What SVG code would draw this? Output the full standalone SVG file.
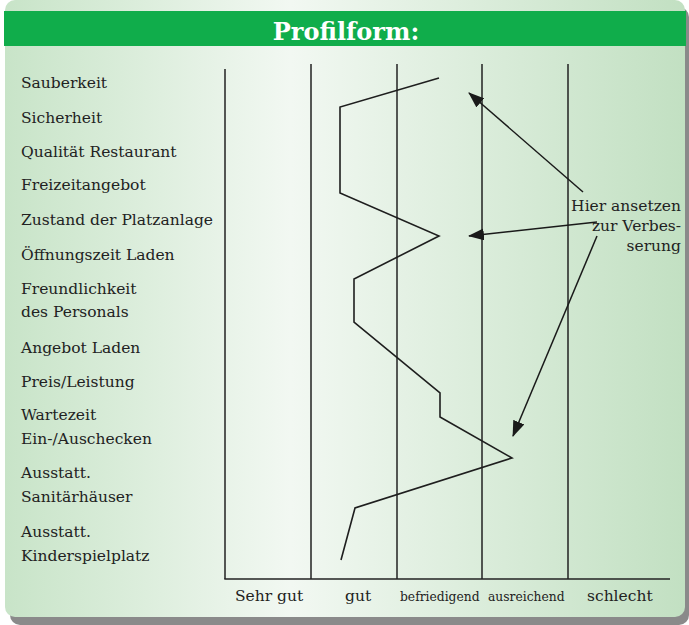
<svg xmlns="http://www.w3.org/2000/svg" width="689" height="625" viewBox="0 0 689 625">
<defs>
<linearGradient id="bg" x1="0" y1="0" x2="1" y2="0">
<stop offset="0" stop-color="#c8e4c8"/>
<stop offset="0.42" stop-color="#f2f8f2"/>
<stop offset="1" stop-color="#c2e0c2"/>
</linearGradient>
<marker id="ah" markerUnits="userSpaceOnUse" markerWidth="16" markerHeight="12" refX="15" refY="6" orient="auto">
<path d="M0,0 L16,6 L0,12 z" fill="#1a1a1a"/>
</marker>
<style>
.lbl{font-family:"DejaVu Serif","Liberation Serif",serif;font-size:15.5px;fill:#222}
.ax{font-family:"DejaVu Serif","Liberation Serif",serif;font-size:15.5px;fill:#222}
.axs{font-family:"DejaVu Serif","Liberation Serif",serif;font-size:12.3px;fill:#222}
.grid{stroke:#222;stroke-width:1.5;fill:none}
.prof{stroke:#1e1e1e;stroke-width:1.6;fill:none;stroke-linejoin:miter}
.arr{stroke:#1a1a1a;stroke-width:1.5;fill:none;marker-end:url(#ah)}
</style>
</defs>
<g id="background">
<rect x="10" y="7" width="679" height="618" rx="10" fill="#8a8a8a"/>
<rect x="5" y="0" width="680" height="617" rx="10" fill="url(#bg)"/>
<rect x="4" y="11" width="682" height="35" fill="#10ad4b"/>
<text x="346" y="40" text-anchor="middle" font-family="DejaVu Serif, Liberation Serif, serif" font-weight="bold" font-size="24" fill="#ffffff">Profilform:</text>
</g>
<g id="labels">
<text class="lbl" x="21" y="88">Sauberkeit</text>
<text class="lbl" x="21" y="123">Sicherheit</text>
<text class="lbl" x="21" y="157">Qualität Restaurant</text>
<text class="lbl" x="21" y="190">Freizeitangebot</text>
<text class="lbl" x="21" y="225">Zustand der Platzanlage</text>
<text class="lbl" x="21" y="260">Öffnungszeit Laden</text>
<text class="lbl" x="21" y="294">Freundlichkeit</text>
<text class="lbl" x="21" y="317">des Personals</text>
<text class="lbl" x="21" y="353">Angebot Laden</text>
<text class="lbl" x="21" y="387">Preis/Leistung</text>
<text class="lbl" x="21" y="420">Wartezeit</text>
<text class="lbl" x="21" y="444">Ein-/Auschecken</text>
<text class="lbl" x="21" y="478">Ausstatt.</text>
<text class="lbl" x="21" y="502">Sanitärhäuser</text>
<text class="lbl" x="21" y="537">Ausstatt.</text>
<text class="lbl" x="21" y="561">Kinderspielplatz</text>
</g>
<g id="grid">
<line class="grid" x1="225" y1="69" x2="225" y2="579"/>
<line class="grid" x1="311" y1="64" x2="311" y2="579"/>
<line class="grid" x1="397" y1="64" x2="397" y2="579"/>
<line class="grid" x1="482" y1="64" x2="482" y2="579"/>
<line class="grid" x1="568" y1="64" x2="568" y2="579"/>
<line class="grid" x1="224.3" y1="579" x2="670" y2="579"/>
</g>
<g id="axis-labels">
<text class="ax" x="235" y="601">Sehr gut</text>
<text class="ax" x="345" y="601">gut</text>
<text class="axs" x="400" y="601">befriedigend</text>
<text class="axs" x="488" y="601">ausreichend</text>
<text class="ax" x="587" y="601">schlecht</text>
</g>
<g id="profile">
<polyline class="prof" points="439,78 340,107 340,193 439,236 354,279 354,322 440,393 440,417 512,458 355,508 341,560"/>
</g>
<g id="annotation">
<text class="lbl" x="681" y="211" text-anchor="end">Hier ansetzen</text>
<text class="lbl" x="681" y="231" text-anchor="end">zur Verbes-</text>
<text class="lbl" x="681" y="251" text-anchor="end">serung</text>
</g>
<g id="connectors">
<line class="arr" x1="583" y1="192" x2="469" y2="93"/>
<line class="arr" x1="597" y1="222" x2="469" y2="236"/>
<line class="arr" x1="597" y1="236" x2="513" y2="436"/>
</g>
</svg>
